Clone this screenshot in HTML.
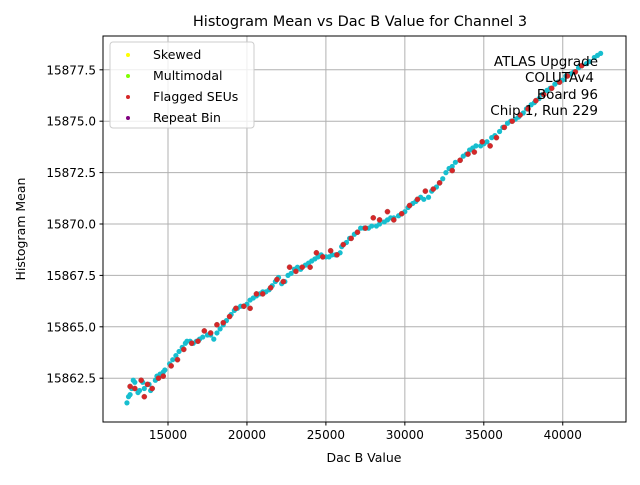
<!DOCTYPE html>
<html><head><meta charset="utf-8"><style>
body{margin:0;background:#fff;font-family:"Liberation Sans","DejaVu Sans",sans-serif}
svg text{font-family:"DejaVu Sans","Liberation Sans",sans-serif}
</style></head><body>
<svg id="chart" width="640" height="480" viewBox="0 0 640 480">
<rect width="640" height="480" fill="#fff"/>
<g id="grid"></g>
<g id="marks"></g>
<rect x="103" y="36" width="523" height="386" fill="none" stroke="#000" stroke-width="1"/>
<g id="ticks"></g>
<text x="360" y="26" text-anchor="middle" font-size="14.5">Histogram Mean vs Dac B Value for Channel 3</text>
<text x="364" y="462" text-anchor="middle" font-size="12.5">Dac B Value</text>
<text transform="translate(25,229) rotate(-90)" text-anchor="middle" font-size="12.5">Histogram Mean</text>
<g font-size="13.5" text-anchor="end">
<text x="598" y="66">ATLAS Upgrade</text>
<text x="594" y="82">COLUTAv4</text>
<text x="598" y="99">Board 96</text>
<text x="598" y="115">Chip 1, Run 229</text>
</g>
<g>
<rect x="110" y="42" width="144" height="86" rx="3" fill="#fff" fill-opacity="0.8" stroke="#ccc"/>
<circle cx="128" cy="55" r="2" fill="#ffff00"/><text x="153" y="59" font-size="12.5">Skewed</text>
<circle cx="128" cy="76" r="2" fill="#7fff00"/><text x="153" y="80" font-size="12.5">Multimodal</text>
<circle cx="128" cy="97" r="2" fill="#d62728"/><text x="153" y="101" font-size="12.5">Flagged SEUs</text>
<circle cx="128" cy="118" r="2" fill="#800080"/><text x="153" y="122" font-size="12.5">Repeat Bin</text>
</g>
</svg>
<script>
const xTicks=[15000,20000,25000,30000,35000,40000];
const yTicks=[15862.5,15865.0,15867.5,15870.0,15872.5,15875.0,15877.5];
const cyanX=[12400,12600,12700,12900,13200,13500,13800,14200,14500,14800,15100,15500,15900,16200,16600,17000,17500,17900,18300,18700,19200,19600,20000,20400,20800,21200,21600,22000,22400,22800,23200,23700,24100,24500,25000,25400,25900,26300,26800,27200,27700,28200,28700,29100,29600,30000,30500,31000,31500,32000,32400,32800,33200,33700,34100,34500,35000,35500,36000,36500,37000,37500,38000,38500,39000,39500,40000,40500,41000,41500,42000,42400];
const cyanY=[15861.3,15861.7,15862.0,15862.3,15861.9,15862.0,15862.2,15862.4,15862.7,15862.9,15863.2,15863.6,15864.0,15864.3,15864.2,15864.4,15864.6,15864.4,15864.9,15865.3,15865.8,15866.0,15866.1,15866.4,15866.6,15866.7,15867.0,15867.4,15867.2,15867.6,15867.9,15868.0,15868.2,15868.4,15868.4,15868.5,15868.6,15869.1,15869.5,15869.8,15869.8,15869.9,15870.1,15870.3,15870.4,15870.6,15871.0,15871.3,15871.3,15871.8,15872.2,15872.7,15873.0,15873.3,15873.6,15873.8,15873.9,15874.2,15874.5,15874.9,15875.1,15875.4,15875.8,15876.1,15876.5,15876.8,15877.0,15877.3,15877.6,15877.8,15878.1,15878.3];
const cyan2X=[12500,12800,13100,13400,13900,14300,14700,15300,15700,16100,16400,16800,17200,17700,18100,18500,19000,19400,19800,20200,20600,21000,21400,21800,22200,22600,23000,23400,23900,24300,24700,25200,25600,26000,26500,27000,27400,27900,28400,28900,29300,29800,30200,30700,31200,31700,32200,32600,33000,33500,33900,34300,34800,35200,35700,36200,36700,37200,37700,38200,38700,39200,39700,40200,40700,41200,41700,42200];
const cyan2Y=[15861.6,15862.4,15861.8,15862.3,15861.9,15862.6,15862.8,15863.4,15863.8,15864.2,15864.3,15864.3,15864.5,15864.6,15864.7,15865.1,15865.6,15865.9,15866.0,15866.3,15866.5,15866.7,15866.8,15867.2,15867.1,15867.5,15867.8,15867.8,15868.1,15868.3,15868.5,15868.4,15868.5,15868.9,15869.3,15869.6,15869.8,15869.9,15870.0,15870.2,15870.3,15870.5,15870.8,15871.1,15871.2,15871.6,15872.0,15872.5,15872.8,15873.1,15873.4,15873.7,15873.8,15874.0,15874.3,15874.7,15875.0,15875.2,15875.6,15875.9,15876.3,15876.6,15876.9,15877.2,15877.4,15877.7,15877.9,15878.2];
const redX=[12600,12900,13300,13500,13700,14000,14400,14700,15200,15600,16000,16500,16900,17300,17700,18100,18500,18900,19300,19800,20200,20600,21000,21500,21900,22300,22700,23100,23500,24000,24400,24800,25300,25700,26100,26600,27000,27500,28000,28400,28900,29300,29800,30300,30800,31300,31800,32200,33000,33500,34000,34400,34900,35400,35800,36300,36800,37300,37800,38300,38800,39300,39800,40300,40800,41200];
const redY=[15862.1,15862.0,15862.4,15861.6,15862.2,15862.0,15862.5,15862.6,15863.1,15863.4,15863.9,15864.2,15864.3,15864.8,15864.7,15865.1,15865.2,15865.5,15865.9,15866.0,15865.9,15866.6,15866.6,15866.9,15867.3,15867.2,15867.9,15867.7,15867.9,15867.9,15868.6,15868.4,15868.7,15868.5,15869.0,15869.3,15869.6,15869.8,15870.3,15870.2,15870.6,15870.2,15870.5,15870.9,15871.2,15871.6,15871.7,15872.0,15872.6,15873.1,15873.4,15873.5,15874.0,15873.8,15874.2,15874.7,15875.0,15875.3,15875.6,15876.0,15876.3,15876.6,15876.9,15877.2,15877.4,15877.7];
const NS='http://www.w3.org/2000/svg';
function sx(v){return 168+(v-15000)*0.01579;}
function sy(v){return 224-(v-15870)*20.56;}
const grid=document.getElementById('grid'),ticks=document.getElementById('ticks'),marks=document.getElementById('marks');
function mk(t,a,p){const e=document.createElementNS(NS,t);for(const k in a)e.setAttribute(k,a[k]);p.appendChild(e);return e;}
xTicks.forEach(v=>{const x=sx(v);
 const g=mk('line',{x1:x,x2:x,y1:36,y2:422,stroke:'#b0b0b0','stroke-width':1},grid);
 
 
 mk('line',{x1:x,x2:x,y1:422,y2:425.5,stroke:'#000'},ticks);
 const t=mk('text',{x:x,y:439,'text-anchor':'middle','font-size':12},ticks);t.textContent=v;
 
 });
yTicks.forEach(v=>{const y=sy(v);
 const g=mk('line',{x1:103,x2:626,y1:y,y2:y,stroke:'#b0b0b0','stroke-width':1},grid);
 
 
 mk('line',{x1:99.5,x2:103,y1:y,y2:y,stroke:'#000'},ticks);
 const t=mk('text',{x:96,y:y+4.5,'text-anchor':'end','font-size':12},ticks);t.textContent=v.toFixed(1);
 
 });
cyanX.forEach((v,i)=>{const c=mk('circle',{cx:sx(v),cy:sy(cyanY[i]),r:2.6,fill:'#17becf'},marks);
 
 });
cyan2X.forEach((v,i)=>{const c=mk('circle',{cx:sx(v),cy:sy(cyan2Y[i]),r:2.6,fill:'#17becf'},marks);
 
 });
redX.forEach((v,i)=>{const c=mk('circle',{cx:sx(v),cy:sy(redY[i]),r:2.6,fill:'#d62728',stroke:'#a04040','stroke-width':0.4},marks);
 
 });
</script>
</body></html>
